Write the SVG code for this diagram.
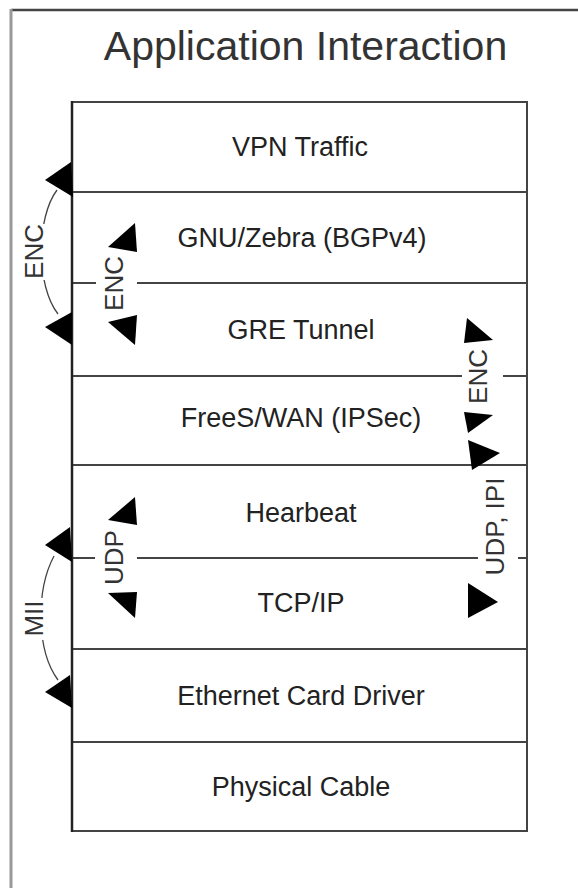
<svg xmlns="http://www.w3.org/2000/svg" width="578" height="888" viewBox="0 0 578 888">
<style>
.row{fill:#fff;stroke:#444;stroke-width:2}
.lbl{font-family:"Liberation Sans",Arial,sans-serif;font-size:27px;fill:#222;text-anchor:middle}
.clbl{font-family:"Liberation Sans",Arial,sans-serif;font-size:26px;fill:#333;text-anchor:middle}
.arc{fill:none;stroke:#444;stroke-width:1.3}
.ah{fill:#000}
.bg{fill:#fff}
</style>
<rect width="578" height="888" fill="#fff"/>
<g id="frame">
<line x1="11" y1="10" x2="578" y2="10" stroke="#444" stroke-width="2.5"/>
<line x1="11" y1="9" x2="11" y2="888" stroke="#999" stroke-width="3"/>
<text x="305.5" y="60" font-family="Liberation Sans,Arial,sans-serif" font-size="41" fill="#333" text-anchor="middle">Application Interaction</text>
</g>
<g id="vpn"><rect class="row" x="72" y="102" width="455" height="90"/><text class="lbl" x="300" y="156">VPN Traffic</text></g>
<g id="gnu"><rect class="row" x="72" y="192" width="455" height="91"/><text class="lbl" x="302" y="247">GNU/Zebra (BGPv4)</text></g>
<g id="gre"><rect class="row" x="72" y="283" width="455" height="93"/><text class="lbl" x="301" y="339">GRE Tunnel</text></g>
<g id="freeswan"><rect class="row" x="72" y="376" width="455" height="89"/><text class="lbl" x="301" y="427">FreeS/WAN (IPSec)</text></g>
<g id="heartbeat"><rect class="row" x="72" y="465" width="455" height="93"/><text class="lbl" x="301" y="522">Hearbeat</text></g>
<g id="tcpip"><rect class="row" x="72" y="558" width="455" height="91"/><text class="lbl" x="301" y="612">TCP/IP</text></g>
<g id="ethernet"><rect class="row" x="72" y="649" width="455" height="93"/><text class="lbl" x="301" y="705">Ethernet Card Driver</text></g>
<g id="cable"><rect class="row" x="72" y="742" width="455" height="89"/><text class="lbl" x="301" y="796">Physical Cable</text></g>
<line x1="72" y1="101" x2="72" y2="832" stroke="#222" stroke-width="2.5"/>
<g id="connectors">
<!-- left ENC arc -->
<path class="arc" d="M57 190 C36 218 36 286 58 314"/>
<rect class="bg" x="22" y="224" width="24" height="56"/>
<text class="clbl" transform="translate(43 251.5) rotate(-90)">ENC</text>
<polygon class="ah" points="71,162 45,180 73,197"/>
<polygon class="ah" points="72,312 45,327 72,345"/>
<!-- inner ENC -->
<rect class="bg" x="96" y="255" width="41" height="58"/>
<text class="clbl" transform="translate(123 283.5) rotate(-90)">ENC</text>
<polygon class="ah" points="135,223 108,247 137,252"/>
<polygon class="ah" points="137,315 108,322 135,345"/>
<!-- right ENC -->
<rect class="bg" x="462" y="348" width="41" height="57"/>
<text class="clbl" transform="translate(487 376.5) rotate(-90)">ENC</text>
<polygon class="ah" points="467,318 493,340 464,343"/>
<polygon class="ah" points="464,412 493,415 468,433"/>
<!-- right UDP, IPI -->
<rect class="bg" x="478" y="474" width="40" height="106"/>
<text class="clbl" transform="translate(504 526.5) rotate(-90)">UDP, IPI</text>
<polygon class="ah" points="468,440 500,453 472,470"/>
<polygon class="ah" points="468,583 498,602 468,618"/>
<!-- inner UDP -->
<rect class="bg" x="95" y="529" width="42" height="58"/>
<text class="clbl" transform="translate(123 557.5) rotate(-90)">UDP</text>
<polygon class="ah" points="135,497 108,520 137,525"/>
<polygon class="ah" points="137,592 108,593 135,618"/>
<!-- MII arc -->
<path class="arc" d="M54 556 C36 590 36 650 58 680"/>
<rect class="bg" x="22" y="598" width="24" height="42"/>
<text class="clbl" transform="translate(43 618.5) rotate(-90)">MII</text>
<polygon class="ah" points="70,527 45,545 72,562"/>
<polygon class="ah" points="70,675 45,692 72,708"/>
</g>
</svg>
